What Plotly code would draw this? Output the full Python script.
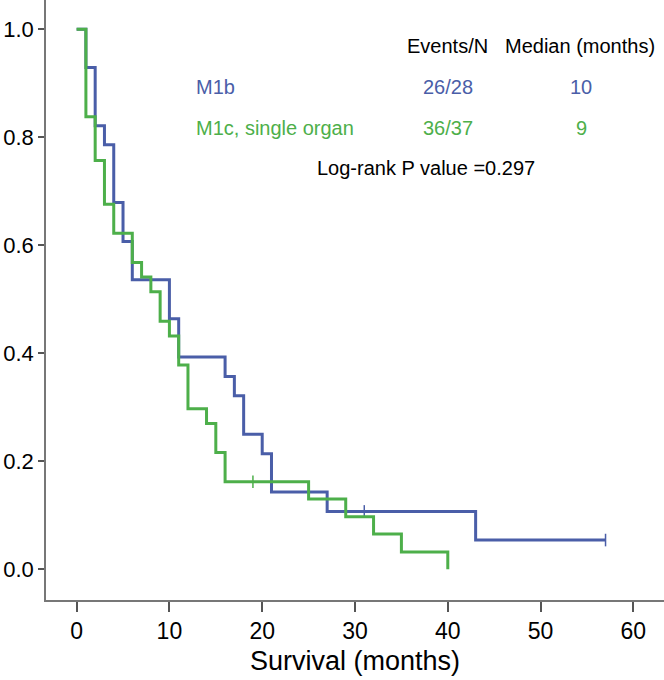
import plotly.graph_objects as go

# Kaplan-Meier step data (months, survival probability)
m1b_times = [0, 1, 2, 3, 4, 5, 6, 10, 11, 16, 17, 18, 20, 21, 27, 43, 57]
m1b_surv = [1.0, 0.929, 0.821, 0.786, 0.679, 0.607, 0.536, 0.464, 0.393,
            0.357, 0.321, 0.250, 0.214, 0.143, 0.107, 0.054, 0.054]
m1b_cens_t = [31, 57]
m1b_cens_s = [0.107, 0.054]

m1c_times = [0, 1, 2, 3, 4, 6, 7, 8, 9, 10, 11, 12, 14, 15, 16, 25, 29, 32, 35, 40]
m1c_surv = [1.0, 0.838, 0.757, 0.676, 0.622, 0.568, 0.541, 0.514, 0.459, 0.432,
            0.378, 0.297, 0.270, 0.216, 0.162, 0.130, 0.097, 0.065, 0.032, 0.0]
m1c_cens_t = [19]
m1c_cens_s = [0.162]

x_ticks = [0, 10, 20, 30, 40, 50, 60]
y_ticks = [0.0, 0.2, 0.4, 0.6, 0.8, 1.0]

BLUE = '#4a5ea8'
GREEN = '#4daf4a'
FONT = 'Liberation Sans, Arial, sans-serif'

fig = go.Figure()

fig.add_trace(go.Scatter(x=m1b_times, y=m1b_surv, mode='lines', line_shape='hv',
                         line=dict(color=BLUE, width=3), name='M1b'))
fig.add_trace(go.Scatter(x=m1b_cens_t, y=m1b_cens_s, mode='markers',
                         marker=dict(symbol='line-ns', size=9, line=dict(color=BLUE, width=1.5))))
fig.add_trace(go.Scatter(x=m1c_times, y=m1c_surv, mode='lines', line_shape='hv',
                         line=dict(color=GREEN, width=3), name='M1c, single organ'))
fig.add_trace(go.Scatter(x=m1c_cens_t, y=m1c_cens_s, mode='markers',
                         marker=dict(symbol='line-ns', size=9, line=dict(color=GREEN, width=1.5))))

# table-like text block
def note(x, y, text, color='black', anchor='center'):
    fig.add_annotation(x=x, y=y, xref='x', yref='y', text=text, showarrow=False,
                       xanchor=anchor, font=dict(family=FONT, size=20, color=color))

note(40.0, 0.969, 'Events/N')
note(54.3, 0.969, 'Median (months)')
note(12.6, 0.893, 'M1b', BLUE, 'left')
note(40.0, 0.893, '26/28', BLUE)
note(54.4, 0.893, '10', BLUE)
note(12.6, 0.817, 'M1c, single organ', GREEN, 'left')
note(40.0, 0.817, '36/37', GREEN)
note(54.4, 0.817, '9', GREEN)
note(37.6, 0.743, 'Log-rank P value =0.297')

# x-axis title as an annotation so it sits where the original has it
fig.add_annotation(x=0.5, y=-0.1017, xref='paper', yref='paper', text='Survival (months)',
                   showarrow=False, xanchor='center', yanchor='middle',
                   font=dict(family=FONT, size=27, color='black'))

fig.update_layout(
    width=664, height=680,
    margin=dict(l=46, r=0, t=0, b=80),
    paper_bgcolor='white', plot_bgcolor='white',
    showlegend=False,
    font=dict(family=FONT, color='black'),
    xaxis=dict(range=[-3.3, 63.3], tickvals=x_ticks, ticks='outside', ticklen=10,
               tickcolor='#555', tickwidth=1.5, showline=True, linecolor='#777',
               linewidth=1.5, showgrid=False, zeroline=False, automargin=False,
               tickfont=dict(size=23)),
    yaxis=dict(range=[-0.057, 1.054], tickvals=y_ticks, tickformat='.1f',
               ticks='outside', ticklen=6, tickcolor='#555', tickwidth=1.5,
               showline=True, linecolor='#777', linewidth=1.5, showgrid=False,
               zeroline=False, automargin=False, tickfont=dict(size=22)),
)

# drop the default page margin so the figure fills the window
fig.write_html("out.html", config={'displayModeBar': False},
               post_script="document.body.style.margin='0';")
